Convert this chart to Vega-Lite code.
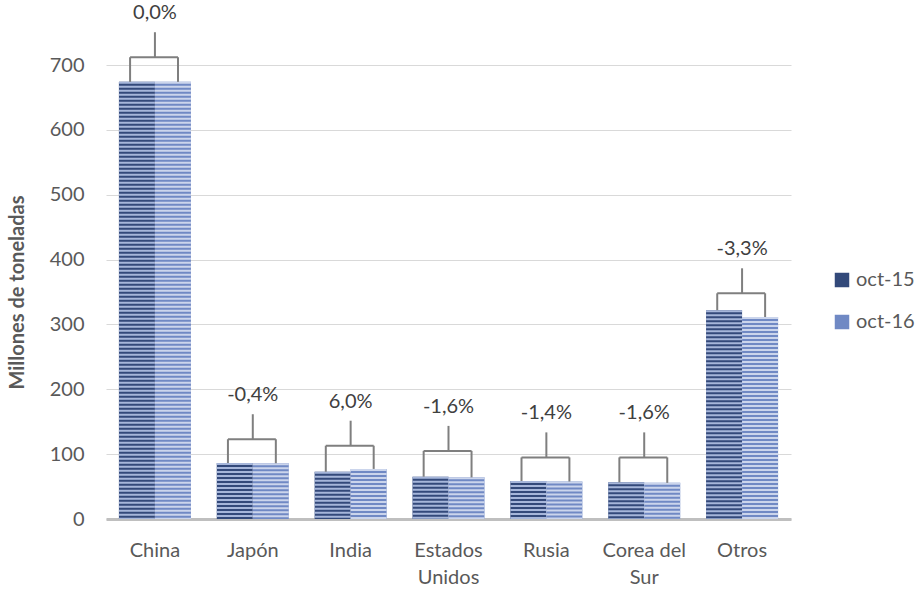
{
  "$schema": "https://vega.github.io/schema/vega-lite/v6.json",
  "width": 685,
  "height": 454,
  "autosize": {"type": "none"},
  "padding": {"left": 106, "top": 65, "right": 126, "bottom": 71},
  "background": "white",
  "config": {
    "view": {"stroke": null},
    "font": "Lato"
  },
  "datasets": {
    "barras": [
      {"pais": "China", "serie": "oct-15", "valor": 674},
      {"pais": "China", "serie": "oct-16", "valor": 674},
      {"pais": "Japón", "serie": "oct-15", "valor": 86.3},
      {"pais": "Japón", "serie": "oct-16", "valor": 86.0},
      {"pais": "India", "serie": "oct-15", "valor": 72.8},
      {"pais": "India", "serie": "oct-16", "valor": 77.2},
      {"pais": "Estados Unidos", "serie": "oct-15", "valor": 65.2},
      {"pais": "Estados Unidos", "serie": "oct-16", "valor": 64.2},
      {"pais": "Rusia", "serie": "oct-15", "valor": 58.6},
      {"pais": "Rusia", "serie": "oct-16", "valor": 57.8},
      {"pais": "Corea del Sur", "serie": "oct-15", "valor": 56.6},
      {"pais": "Corea del Sur", "serie": "oct-16", "valor": 55.7},
      {"pais": "Otros", "serie": "oct-15", "valor": 322},
      {"pais": "Otros", "serie": "oct-16", "valor": 311.4}
    ],
    "variacion": [
      {"pais": "China", "v15": 674, "v16": 674, "nivel": 712, "cambio": "0,0%"},
      {"pais": "Japón", "v15": 86.3, "v16": 86.0, "nivel": 123, "cambio": "-0,4%"},
      {"pais": "India", "v15": 72.8, "v16": 77.2, "nivel": 113, "cambio": "6,0%"},
      {"pais": "Estados Unidos", "v15": 65.2, "v16": 64.2, "nivel": 105, "cambio": "-1,6%"},
      {"pais": "Rusia", "v15": 58.6, "v16": 57.8, "nivel": 95, "cambio": "-1,4%"},
      {"pais": "Corea del Sur", "v15": 56.6, "v16": 55.7, "nivel": 95, "cambio": "-1,6%"},
      {"pais": "Otros", "v15": 322, "v16": 311.4, "nivel": 348, "cambio": "-3,3%"}
    ]
  },
  "encoding": {
    "x": {
      "field": "pais",
      "type": "nominal",
      "scale": {
        "domain": ["China", "Japón", "India", "Estados Unidos", "Rusia", "Corea del Sur", "Otros"],
        "paddingInner": 0.264,
        "paddingOuter": 0.132
      },
      "axis": {
        "title": null,
        "labelAngle": 0,
        "labelFontSize": 20,
        "labelColor": "#595959",
        "labelPadding": 21,
        "labelLineHeight": 27,
        "labelExpr": "datum.value == 'Estados Unidos' ? ['Estados', 'Unidos'] : datum.value == 'Corea del Sur' ? ['Corea del', 'Sur'] : datum.value",
        "ticks": false,
        "domainColor": "#bfbfbf",
        "domainWidth": 3,
        "grid": false
      }
    }
  },
  "layer": [
    {
      "data": {"name": "barras"},
      "mark": {"type": "bar", "width": {"band": 1}},
      "encoding": {
        "xOffset": {"field": "serie", "type": "nominal", "scale": {"paddingInner": 0, "paddingOuter": 0}},
        "y": {
          "field": "valor",
          "type": "quantitative",
          "scale": {"domain": [0, 700], "nice": false},
          "axis": {
            "title": "Millones de toneladas",
            "titleFontSize": 20,
            "titleFontWeight": "bold",
            "titleColor": "#595959",
            "titlePadding": 22,
            "values": [0, 100, 200, 300, 400, 500, 600, 700],
            "labelFontSize": 20,
            "labelColor": "#595959",
            "labelPadding": 22,
            "ticks": false,
            "domain": false,
            "gridColor": "#d9d9d9",
            "gridWidth": 1
          }
        },
        "color": {
          "field": "serie",
          "type": "nominal",
          "scale": {"domain": ["oct-15", "oct-16"], "range": ["#33497a", "#7089c4"]},
          "legend": {
            "title": null,
            "orient": "none",
            "legendX": 726,
            "legendY": 205,
            "padding": 0,
            "symbolType": "square",
            "symbolSize": 210,
            "symbolStrokeWidth": 0,
            "rowPadding": 22,
            "labelFontSize": 20,
            "labelColor": "#595959",
            "labelOffset": 4
          }
        }
      }
    },
    {
      "data": {"name": "barras"},
      "mark": {"type": "rule", "strokeWidth": 36, "strokeDash": [2, 2], "strokeCap": "butt"},
      "encoding": {
        "xOffset": {"field": "serie", "type": "nominal"},
        "y": {"field": "valor", "type": "quantitative"},
        "y2": {"datum": 0},
        "stroke": {
          "field": "serie",
          "type": "nominal",
          "scale": {"domain": ["oct-15", "oct-16"], "range": ["#a6b6da", "#cbd5ec"]},
          "legend": null
        }
      }
    },
    {
      "data": {"name": "variacion"},
      "mark": {"type": "rule", "color": "#7f7f7f", "strokeWidth": 2},
      "encoding": {
        "x": {"field": "pais", "type": "nominal", "bandPosition": 0.155},
        "y": {"field": "v15", "type": "quantitative"},
        "y2": {"field": "nivel"}
      }
    },
    {
      "data": {"name": "variacion"},
      "mark": {"type": "rule", "color": "#7f7f7f", "strokeWidth": 2},
      "encoding": {
        "x": {"field": "pais", "type": "nominal", "bandPosition": 0.82},
        "y": {"field": "v16", "type": "quantitative"},
        "y2": {"field": "nivel"}
      }
    },
    {
      "data": {"name": "variacion"},
      "mark": {"type": "rule", "color": "#7f7f7f", "strokeWidth": 2},
      "encoding": {
        "x": {"field": "pais", "type": "nominal", "bandPosition": 0.155},
        "x2": {"field": "pais", "bandPosition": 0.82},
        "y": {"field": "nivel", "type": "quantitative"}
      }
    },
    {
      "data": {"name": "variacion"},
      "mark": {"type": "rule", "color": "#7f7f7f", "strokeWidth": 2, "y2Offset": -25},
      "encoding": {
        "x": {"field": "pais", "type": "nominal"},
        "y": {"field": "nivel", "type": "quantitative"},
        "y2": {"field": "nivel"}
      }
    },
    {
      "data": {"name": "variacion"},
      "mark": {"type": "text", "fontSize": 20, "color": "#404040", "baseline": "middle", "yOffset": -44},
      "encoding": {
        "x": {"field": "pais", "type": "nominal"},
        "y": {"field": "nivel", "type": "quantitative"},
        "text": {"field": "cambio"}
      }
    }
  ]
}
